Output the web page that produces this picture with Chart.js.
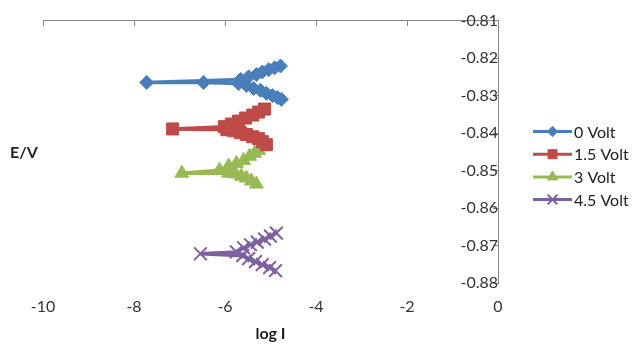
<!DOCTYPE html>
<html>
<head>
<meta charset="utf-8">
<title>E/V vs log I</title>
<script src="https://cdn.jsdelivr.net/npm/chart.js"></script>
<style>
  body { margin: 0; background: #fff; }
  #wrap { width: 636px; height: 345px; }
</style>
</head>
<body>
<div id="wrap"><canvas id="tafelChart" width="636" height="345"></canvas></div>
<script>
// series names
const seriesNames = ["0 Volt", "1.5 Volt", "3 Volt", "4.5 Volt"];

// 0 Volt
const logI0 = [-4.76, -4.85, -4.96, -5.09, -5.22, -5.37, -5.53, -5.70, -6.47, -7.72, -5.66, -5.48, -5.31, -5.18, -5.04, -4.91, -4.78];
const e0 = [-0.8310, -0.8305, -0.8300, -0.8294, -0.8286, -0.8281, -0.8273, -0.8268, -0.8265, -0.8265, -0.8257, -0.8250, -0.8244, -0.8237, -0.8231, -0.8226, -0.8221];

// 1.5 Volt
const logI15 = [-5.09, -5.18, -5.26, -5.39, -5.53, -5.66, -5.81, -5.96, -7.15, -6.01, -5.86, -5.70, -5.55, -5.39, -5.26, -5.13];
const e15 = [-0.8431, -0.8423, -0.8415, -0.8410, -0.8404, -0.8399, -0.8394, -0.8391, -0.8389, -0.8383, -0.8376, -0.8368, -0.8360, -0.8352, -0.8344, -0.8336];

// 3 Volt
const logI3 = [-5.31, -5.42, -5.53, -5.64, -5.77, -5.92, -6.95, -6.12, -5.92, -5.75, -5.59, -5.46, -5.35, -5.26];
const e3 = [-0.8536, -0.8528, -0.8520, -0.8515, -0.8509, -0.8507, -0.8507, -0.8499, -0.8488, -0.8481, -0.8473, -0.8462, -0.8454, -0.8446];

// 4.5 Volt
const logI45 = [-4.89, -5.02, -5.18, -5.33, -5.48, -5.61, -6.54, -5.75, -5.59, -5.44, -5.29, -5.13, -5.00, -4.87];
const e45 = [-0.8767, -0.8759, -0.8751, -0.8743, -0.8735, -0.8727, -0.8722, -0.8717, -0.8706, -0.8698, -0.8691, -0.8683, -0.8675, -0.8667];

// axis ranges / ticks
const xMin = -10, xMax = 0, xStep = 2;
const yMin = -0.88, yMax = -0.81, yStep = 0.01;

const FONT = "Lato, 'Open Sans', sans-serif";
const AXIS_GRAY = "#868686";

function pts(xs, ys) {
  return xs.map((x, i) => ({ x: x, y: ys[i] }));
}

function series(label, xs, ys, color, style, radius, pbw) {
  return {
    label: label,
    data: pts(xs, ys),
    showLine: true,
    borderColor: color,
    backgroundColor: color,
    borderWidth: 3.5,
    pointStyle: style,
    pointRadius: radius,
    pointHoverRadius: radius,
    pointBackgroundColor: color,
    pointBorderColor: color,
    pointBorderWidth: pbw
  };
}

// legend and "E/V" label drawn on the side
const sideText = {
  id: "sideText",
  afterDraw(chart) {
    const ctx = chart.ctx;
    ctx.save();
    ctx.fillStyle = "#222";
    ctx.font = "bold 16px " + FONT;
    ctx.textAlign = "center";
    ctx.textBaseline = "middle";
    ctx.fillText("E/V", 24, 153);

    chart.data.datasets.forEach((ds, i) => {
      const y = 131.5 + i * 22.7;
      ctx.strokeStyle = ds.borderColor;
      ctx.lineWidth = 3;
      ctx.beginPath();
      ctx.moveTo(533, y);
      ctx.lineTo(572, y);
      ctx.stroke();
      if (Chart.helpers && Chart.helpers.drawPoint) {
        ctx.fillStyle = ds.backgroundColor;
        ctx.strokeStyle = ds.borderColor;
        ctx.lineWidth = ds.pointBorderWidth;
        Chart.helpers.drawPoint(ctx, {
          pointStyle: ds.pointStyle,
          radius: ds.pointRadius * 0.75,
          borderWidth: ds.pointBorderWidth,
          rotation: 0
        }, 552.5, y);
      }
      ctx.fillStyle = "#222";
      ctx.font = "16px " + FONT;
      ctx.textAlign = "left";
      ctx.fillText(ds.label, 574, y + 1);
    });
    ctx.restore();
  }
};

const ctx = document.getElementById("tafelChart").getContext("2d");
new Chart(ctx, {
  type: "scatter",
  data: {
    datasets: [
      series(seriesNames[0], logI0, e0, "#4A7EBB", "rectRot", 7, 1),
      series(seriesNames[1], logI15, e15, "#BE4B48", "rect", 8.5, 1),
      series(seriesNames[2], logI3, e3, "#98B954", "triangle", 8, 1),
      series(seriesNames[3], logI45, e45, "#7D60A0", "crossRot", 9, 2)
    ]
  },
  options: {
    responsive: false,
    animation: false,
    layout: { padding: { left: 43, right: 138, top: 16, bottom: 0 } },
    plugins: {
      legend: { display: false },
      tooltip: { enabled: false }
    },
    scales: {
      x: {
        type: "linear",
        position: "bottom",
        min: xMin,
        max: xMax,
        grid: { display: false, drawTicks: false },
        border: { display: false },
        ticks: {
          stepSize: xStep,
          padding: 14,
          color: "#333",
          font: { family: FONT, size: 16 }
        },
        title: {
          display: true,
          text: "log I",
          color: "#222",
          font: { family: FONT, size: 16, weight: "bold" },
          padding: { top: 6, bottom: 2 }
        },
        afterFit: (s) => { s.height = 62; }
      },
      xTop: {
        type: "linear",
        axis: "x",
        position: { y: yMax },
        min: xMin,
        max: xMax,
        ticks: { display: false, stepSize: xStep },
        grid: { drawOnChartArea: false, tickLength: 5, color: AXIS_GRAY },
        border: { display: true, color: AXIS_GRAY, width: 1 },
        afterFit: (s) => { s.height = 0; }
      },
      y: {
        type: "linear",
        position: { x: 0 },
        min: yMin,
        max: yMax,
        grid: { drawOnChartArea: false, tickLength: 5, color: AXIS_GRAY },
        border: { display: true, color: AXIS_GRAY, width: 1 },
        ticks: {
          stepSize: yStep,
          padding: 11,
          color: "#333",
          font: { family: FONT, size: 16 },
          callback: (v) => v.toFixed(2)
        },
        afterFit: (s) => { s.width = 0; }
      }
    }
  },
  plugins: [sideText]
});
</script>
</body>
</html>
